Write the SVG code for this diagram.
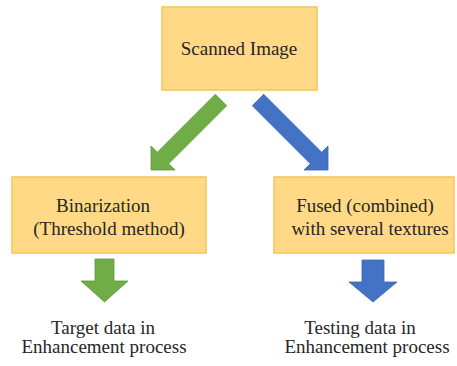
<svg xmlns="http://www.w3.org/2000/svg" width="457" height="366" viewBox="0 0 457 366">
<style>
.box{fill:#FFD985;stroke:#F6C45C;stroke-width:1.5}
.t{font-size:19px;fill:#262626;text-anchor:middle}
.g{fill:#70AD47;stroke:#5E9A3A;stroke-width:0.8}
.b{fill:#4472C4;stroke:#3A64B0;stroke-width:0.8}
</style>
<rect width="457" height="366" fill="#ffffff"/>
<g font-family="'Liberation Serif', 'Times New Roman', 'DejaVu Serif', serif">
<g id="scanned">
<rect class="box" x="162" y="7" width="155" height="83"/>
<text class="t" x="239" y="55">Scanned Image</text>
</g>
<g id="binarization">
<rect class="box" x="12" y="177" width="194" height="76"/>
<text class="t" x="103" y="212">Binarization</text>
<text class="t" x="109" y="235">(Threshold method)</text>
</g>
<g id="fused">
<rect class="box" x="274" y="177" width="180" height="76"/>
<text class="t" x="365" y="212">Fused (combined)</text>
<text class="t" x="370" y="235">with several textures</text>
</g>
<g id="target">
<text class="t" x="103" y="334">Target data in</text>
<text class="t" x="104" y="353">Enhancement process</text>
</g>
<g id="testing">
<text class="t" x="360" y="334">Testing data in</text>
<text class="t" x="367" y="353">Enhancement process</text>
</g>
</g>
<g id="connectors">
<polygon class="g" points="215.3,94.3 226.7,105.7 168.7,163.7 175,170 151,170 151,146 157.3,152.3"/>
<polygon class="b" points="263.7,94.3 252.3,105.7 310.3,163.7 304,170 328,170 328,146 321.7,152.3"/>
<polygon class="g" points="95,259 114,259 114,281 128,281 104.5,302 81,281 95,281"/>
<polygon class="b" points="362,260 384,260 384,282 397,282 373,302 349,282 362,282"/>
</g>
</svg>
